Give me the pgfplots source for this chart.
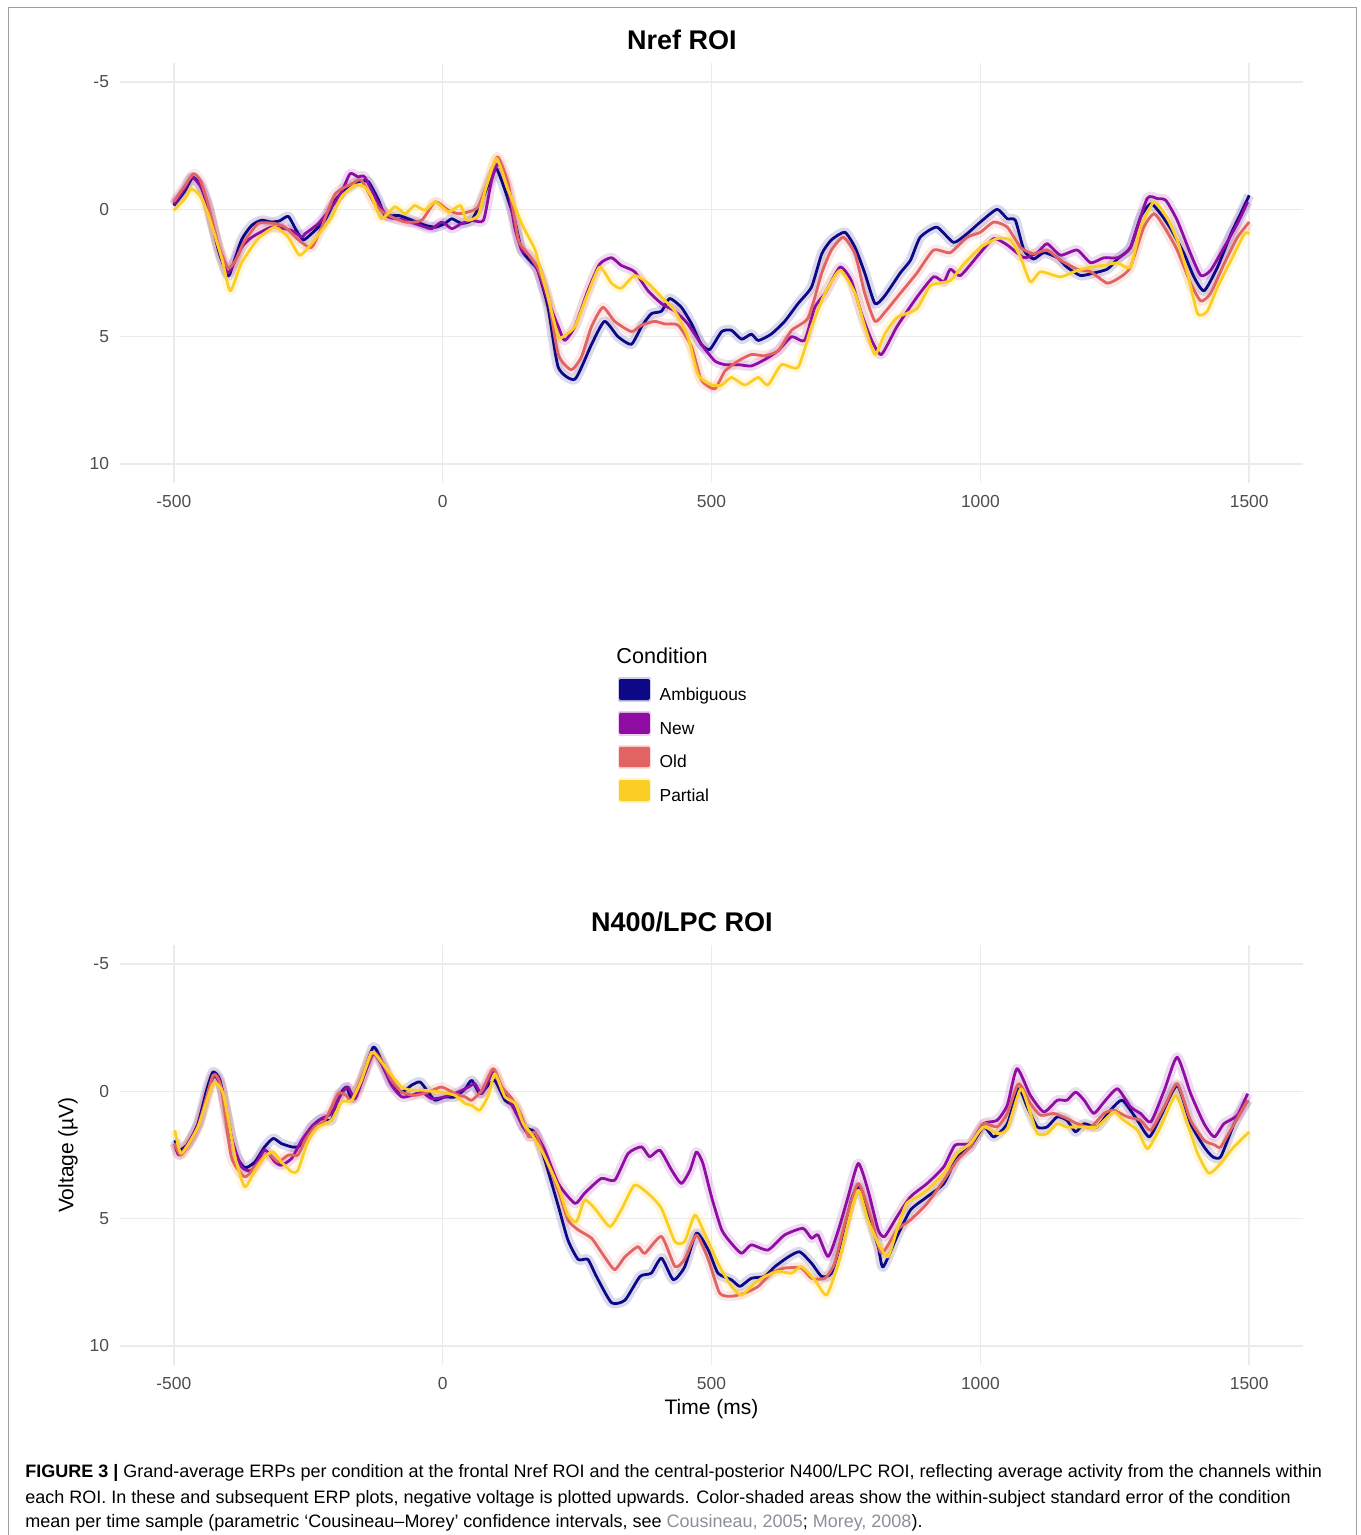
\documentclass[border=0pt]{standalone}
\usepackage{pgfplots}
\pgfplotsset{compat=1.18}
\usepackage{fontspec}
\setmainfont{Liberation Sans}
\definecolor{amb}{HTML}{0D0887}
\definecolor{newc}{HTML}{900DA4}
\definecolor{oldc}{HTML}{E16462}
\definecolor{parc}{HTML}{FCCE25}
\definecolor{gridc}{HTML}{EBEBEB}
\definecolor{tickc}{HTML}{4D4D4D}
\definecolor{linkc}{HTML}{8A8F99}

\pgfplotsset{erp/.style={
  scale only axis, width=591.5pt, height=210.1pt,
  xmin=-600, xmax=1600, ymin=-5.75, ymax=10.75, y dir=reverse,
  xtick={-500,0,500,1000,1500}, xticklabels={-500,0,500,1000,1500},
  ytick={-5,0,5,10}, yticklabels={-5,0,5,10},
  grid=major, major grid style={gridc, line width=0.75pt},
  axis line style={draw=none}, major tick length=0pt,
  tick label style={font=\fontsize{8.7}{10}\selectfont, text=tickc},
  yticklabel style={xshift=-2pt}, xticklabel style={yshift=-2.5pt},
  title style={font=\fontsize{13.5}{16}\selectfont\bfseries, at={(axis description cs:0.475,1)}, anchor=base, yshift=0.7pt},
  clip mode=individual,
  band/.style={line width=5pt, opacity=0.15, forget plot, line join=round, smooth, tension=0.35},
  ln/.style={line width=1.4pt, line join=round, smooth, tension=0.35},
}}

\begin{document}
\begin{tikzpicture}
\useasboundingbox (0,0) rectangle (680pt,767.5pt);
\draw[gray!75, line width=0.5pt] (4pt,0) -- (4pt,763.5pt) -- (678pt,763.5pt) -- (678pt,0);

% ---------------- Top panel: Nref ROI ----------------
\begin{axis}[erp, at={(60pt,525.95pt)}, anchor=south west,
  title={Nref ROI},
  legend style={at={(axis description cs:0.4205,-0.4613)}, anchor=north west, draw=none, fill=none,
    inner sep=0pt, row sep=3.45pt, font=\fontsize{8.7}{10}\selectfont,
    nodes={inner sep=0pt, text height=6.3pt, text depth=1.8pt},
    /tikz/every odd column/.append style={column sep=4.5pt}},
  legend cell align=left,
  legend image code/.code={\fill[#1, opacity=0.2] (-0.5pt,-2.4pt) rectangle (14.5pt,8.6pt); \fill[#1] (0pt,-1.4pt) rectangle (14pt,7.6pt);},
]
% Ambiguous
\pgfplotstableread{
x y
-500 -0.15
-480 -0.7
-465 -1.25
-452 -1.0
-436 -0.1
-417 1.6
-402 2.5
-396 2.55
-374 1.2
-355 0.63
-337 0.43
-318 0.5
-303 0.45
-287 0.28
-272 0.83
-259 1.2
-244 0.96
-219 0.43
-200 -0.35
-182 -0.75
-157 -1.08
-138 -1.08
-119 -0.35
-107 0.24
-82 0.24
-57 0.43
-32 0.63
-13 0.7
4 0.56
17 0.37
35 0.55
54 0.43
73 -0.35
88 -1.14
100 -1.6
116 -0.75
134 0.43
147 1.6
166 2.1
177 2.4
196 3.85
215 6.2
246 6.67
277 5.3
301 4.4
326 5.0
351 5.3
370 4.6
388 4.1
407 4.0
422 3.5
444 3.85
463 4.5
481 5.3
497 5.5
519 4.8
537 4.75
556 5.1
574 4.9
587 5.15
611 4.9
636 4.4
661 3.7
686 3.05
705 1.75
723 1.2
748 0.9
767 1.5
785 2.5
804 3.7
822 3.4
851 2.5
870 2.0
888 1.1
919 0.7
950 1.3
975 0.96
1000 0.5
1031 0.0
1050 0.37
1065 0.43
1081 1.6
1099 1.95
1118 1.7
1143 1.9
1161 2.27
1186 2.6
1211 2.5
1236 2.35
1255 1.95
1279 1.5
1298 0.3
1317 -0.22
1335 0.17
1354 0.76
1379 1.75
1397 2.65
1416 3.2
1441 2.27
1466 0.96
1484 0.17
1500 -0.55
}\TAamb
% New
\pgfplotstableread{
x y
-500 -0.2
-480 -0.8
-467 -1.27
-450 -0.9
-436 -0.1
-417 1.5
-399 2.5
-374 1.5
-355 1.1
-318 0.7
-281 0.83
-262 1.1
-256 0.96
-231 0.56
-206 -0.1
-188 -0.68
-172 -1.4
-157 -1.27
-145 -1.27
-119 -0.22
-101 0.3
-70 0.43
-32 0.7
-20 0.76
-1 0.5
17 0.76
35 0.56
54 0.43
76 0.43
91 -1.14
104 -1.8
122 -0.75
134 0.7
147 1.6
160 1.8
177 2.4
196 3.6
215 4.6
227 5.15
246 4.6
270 3.2
292 2.15
314 1.9
332 2.2
357 2.45
382 3.2
407 3.7
432 4.0
456 4.5
481 5.3
506 5.95
525 6.1
550 6.1
574 6.15
599 5.9
624 5.55
649 5.0
673 5.15
692 3.85
711 3.3
739 2.27
760 2.8
779 4.1
798 5.15
816 5.7
845 4.6
882 3.45
913 2.65
932 2.85
944 2.35
963 2.6
1000 1.7
1025 1.15
1050 1.4
1081 1.9
1106 1.7
1124 1.35
1149 1.8
1180 1.6
1205 2.1
1230 1.9
1255 1.9
1279 1.5
1310 -0.42
1329 -0.42
1345 -0.35
1366 0.43
1391 1.75
1410 2.6
1428 2.4
1453 1.5
1478 0.56
1497 -0.29
}\TAnew
% Old
\pgfplotstableread{
x y
-500 -0.3
-480 -0.9
-463 -1.4
-450 -1.1
-436 -0.2
-417 1.4
-399 2.3
-385 2.0
-370 1.3
-343 0.56
-312 0.56
-293 0.7
-268 1.2
-244 1.5
-225 0.7
-200 -0.6
-169 -1.0
-151 -1.14
-126 -0.2
-107 0.17
-70 0.5
-39 0.43
-14 -0.29
11 0.04
29 0.17
48 0.1
66 -0.1
85 -1.14
102 -2.06
122 -1.0
141 1.2
153 1.6
177 2.3
196 3.45
215 5.7
239 6.3
258 5.8
277 4.6
298 3.85
320 4.4
351 4.8
370 4.55
394 4.4
413 4.5
438 4.55
463 5.4
481 6.7
506 7.05
525 6.35
550 5.95
574 5.7
599 5.75
624 5.55
649 4.75
680 4.25
705 2.5
723 1.6
745 1.1
767 1.75
785 3.3
804 4.4
822 4.05
851 3.3
882 2.5
913 1.6
944 1.7
975 1.1
1000 0.9
1025 0.5
1050 0.7
1075 1.5
1099 1.75
1124 1.6
1149 2.0
1180 2.35
1205 2.45
1236 2.9
1261 2.65
1279 2.27
1304 0.7
1323 0.17
1342 0.7
1366 1.6
1391 2.9
1410 3.6
1428 3.3
1453 2.15
1478 1.1
1500 0.5
}\TAold
% Partial
\pgfplotstableread{
x y
-500 0.04
-480 -0.4
-467 -0.8
-450 -0.5
-436 0.2
-411 1.9
-395 3.2
-374 2.1
-343 1.15
-312 0.7
-287 1.1
-266 1.8
-244 1.35
-225 0.83
-206 0.3
-188 -0.5
-163 -0.95
-145 -0.88
-132 -0.5
-114 0.37
-89 -0.1
-70 0.17
-52 -0.15
-33 0.04
-14 -0.29
11 0.1
33 -0.15
45 0.43
66 0.23
81 -0.88
100 -2.0
122 -0.75
147 0.56
160 1.1
172 1.6
185 2.6
196 3.45
215 5.0
227 4.95
246 4.6
270 3.3
292 2.27
314 2.9
332 3.1
357 2.6
382 2.9
407 3.45
432 4.0
456 5.0
475 6.5
500 6.9
519 6.9
537 6.6
562 6.9
587 6.6
605 6.9
630 6.1
661 6.2
686 4.6
711 3.3
739 2.4
767 3.3
785 4.6
804 5.7
822 4.9
845 4.25
882 3.9
907 3.0
944 2.8
969 2.15
1000 1.5
1031 1.15
1056 1.2
1075 1.9
1093 2.85
1112 2.45
1149 2.65
1180 2.4
1205 2.27
1230 2.2
1255 2.1
1279 2.27
1298 0.7
1323 -0.29
1348 0.37
1366 1.2
1385 2.5
1404 4.1
1422 4.0
1441 3.05
1466 2.0
1491 0.96
1500 0.96
}\TApar
\addplot[band, amb] table {\TAamb};
\addplot[band, newc] table {\TAnew};
\addplot[band, oldc] table {\TAold};
\addplot[band, parc] table {\TApar};
\addplot[ln, amb] table {\TAamb}; \addlegendentry{Ambiguous}
\addplot[ln, newc] table {\TAnew}; \addlegendentry{New}
\addplot[ln, oldc] table {\TAold}; \addlegendentry{Old}
\addplot[ln, parc] table {\TApar}; \addlegendentry{Partial}
\node[anchor=west, inner sep=0pt, font=\fontsize{10.8}{12}\selectfont] at (axis description cs:0.4193,-0.4115) {Condition};
\end{axis}

% ---------------- Bottom panel: N400/LPC ROI ----------------
\begin{axis}[erp, at={(60pt,84.95pt)}, anchor=south west,
  title={N400/LPC ROI},
  xlabel={Time (ms)}, ylabel={Voltage (µV)},
  label style={font=\fontsize{10.5}{12}\selectfont},
  xlabel style={at={(axis description cs:0.5,-0.1035)}, anchor=center},
  ylabel style={at={(axis description cs:-0.044,0.5)}, anchor=center},
]
\pgfplotstableread{
x y
-498 1.92
-489 2.3
-473 2.05
-455 1.27
-439 -0.04
-427 -0.76
-414 -0.43
-399 1.14
-386 2.44
-368 3.0
-349 2.77
-331 2.18
-315 1.85
-300 2.05
-281 2.18
-269 2.18
-256 1.92
-244 1.4
-225 1.07
-207 1.14
-194 0.22
-179 -0.17
-169 0.29
-151 -0.43
-129 -1.74
-114 -1.21
-95 -0.3
-76 0.03
-58 -0.24
-42 -0.37
-27 0.03
-14 0.35
4 0.22
23 0.22
42 -0.1
54 -0.43
69 0.09
82 -0.17
97 -0.43
116 0.35
135 0.61
150 1.4
171 1.6
190 2.7
215 4.5
233 5.84
252 6.6
270 6.6
286 7.27
314 8.3
339 8.2
367 7.27
388 7.14
407 6.55
429 7.4
450 6.9
472 5.57
494 6.23
512 7.14
537 7.4
553 7.66
574 7.34
599 7.27
618 6.88
643 6.5
664 6.3
686 6.75
705 7.27
723 7.14
742 5.84
760 4.27
773 3.75
791 4.8
810 6.1
819 6.9
845 5.7
870 4.66
901 4.14
932 3.62
957 2.57
981 2.18
1006 1.4
1025 1.79
1050 1.27
1071 -0.1
1087 0.61
1106 1.4
1124 1.4
1143 1.0
1161 1.14
1177 1.59
1193 1.27
1217 1.4
1242 0.74
1264 0.35
1292 1.14
1314 1.79
1335 1.0
1366 -0.23
1391 1.27
1416 2.18
1432 2.57
1447 2.57
1472 1.27
1497 0.35
}\TBamb
\pgfplotstableread{
x y
-498 2.05
-489 2.5
-455 1.33
-427 -0.56
-412 -0.17
-393 1.79
-374 2.96
-355 3.1
-331 2.31
-312 2.77
-300 2.9
-281 2.64
-262 1.92
-244 1.4
-225 1.07
-207 0.87
-188 0.09
-176 -0.17
-163 0.29
-145 -0.69
-129 -1.47
-114 -1.08
-95 -0.24
-76 0.22
-58 0.16
-39 0.03
-20 0.29
4 0.22
29 0.03
48 -0.17
60 -0.3
73 0.09
94 -0.76
110 -0.04
129 0.55
150 1.4
163 1.79
171 1.6
190 2.31
215 3.62
246 4.4
264 4.0
295 3.42
320 3.49
345 2.44
370 2.18
385 2.57
404 2.31
426 3.1
444 3.62
460 3.1
472 2.38
484 2.83
500 4.14
519 5.44
537 5.97
556 6.36
574 6.03
605 6.23
636 5.64
670 5.38
686 5.77
698 5.64
717 6.49
736 5.44
754 4.14
773 2.83
791 3.88
810 5.44
822 5.7
845 4.92
870 4.14
901 3.62
932 2.96
953 2.11
981 2.05
1006 1.27
1031 1.14
1050 0.55
1068 -0.89
1093 0.16
1118 0.81
1143 0.35
1161 0.35
1177 0.03
1193 0.35
1211 0.87
1230 0.42
1255 -0.1
1279 0.61
1298 0.87
1317 1.2
1342 -0.04
1366 -1.34
1391 0.09
1416 1.27
1435 1.79
1453 1.27
1478 0.94
1497 0.09
}\TBnew
\pgfplotstableread{
x y
-498 2.05
-486 2.5
-455 1.4
-427 -0.63
-412 -0.17
-393 2.57
-368 3.36
-349 2.96
-325 2.44
-306 2.77
-287 2.5
-269 2.5
-256 1.92
-238 1.4
-219 1.14
-194 0.09
-179 0.16
-169 0.35
-145 -0.82
-129 -1.54
-114 -1.21
-95 -0.43
-76 0.03
-52 0.16
-27 0.03
-2 -0.17
23 0.09
42 0.22
54 0.35
73 -0.04
94 -0.89
110 -0.17
129 0.29
147 1.0
160 1.79
172 1.6
190 2.57
215 3.88
233 5.05
252 5.44
277 5.77
301 6.5
320 7.0
339 6.5
363 6.1
376 6.36
407 5.7
432 6.88
450 6.6
472 5.64
494 6.6
515 7.92
537 8.05
562 7.92
587 7.66
611 7.14
636 6.94
667 6.94
686 7.34
711 7.34
729 6.75
748 5.18
773 3.62
798 5.05
816 6.36
845 5.44
870 5.05
901 4.4
932 3.49
957 2.7
981 2.18
1006 1.27
1031 1.4
1050 0.87
1071 -0.3
1093 0.48
1112 0.94
1137 0.87
1161 1.07
1180 1.27
1205 1.4
1230 0.87
1248 0.74
1273 1.0
1298 1.14
1317 1.53
1342 0.61
1366 -0.3
1391 1.14
1416 1.92
1435 2.1
1447 2.18
1472 1.27
1497 0.35
}\TBold
\pgfplotstableread{
x y
-498 1.53
-486 2.44
-455 1.4
-427 -0.3
-408 0.09
-386 2.57
-368 3.75
-349 3.1
-331 2.57
-315 2.38
-300 2.77
-281 3.16
-269 3.1
-250 1.92
-232 1.4
-207 1.14
-188 0.42
-169 0.35
-151 -0.43
-132 -1.54
-114 -1.15
-95 -0.63
-76 -0.17
-58 -0.04
-33 -0.04
-2 0.03
23 0.16
42 0.48
54 0.55
69 0.74
85 0.16
97 -0.69
116 0.22
135 0.48
150 1.27
166 1.7
190 2.57
215 3.75
233 4.86
249 5.12
264 4.27
283 4.6
311 5.31
332 4.66
357 3.68
385 4.07
407 4.6
432 5.9
450 5.9
469 4.86
487 5.57
512 6.75
537 7.66
556 8.0
580 7.53
599 7.27
624 7.07
649 7.14
667 6.88
692 7.4
714 8.0
736 6.75
754 5.18
773 3.88
791 5.05
810 5.97
828 6.5
845 5.44
863 4.4
894 4.0
932 3.22
957 2.44
981 2.05
1006 1.4
1031 1.66
1050 1.47
1075 -0.1
1093 0.87
1106 1.66
1124 1.66
1143 1.27
1161 1.4
1193 1.4
1217 1.4
1248 0.81
1267 1.14
1292 1.53
1311 2.25
1335 1.4
1363 0.16
1385 1.27
1404 2.44
1425 3.22
1447 2.83
1466 2.31
1484 1.92
1500 1.59
}\TBpar
\addplot[band, amb] table {\TBamb};
\addplot[band, newc] table {\TBnew};
\addplot[band, oldc] table {\TBold};
\addplot[band, parc] table {\TBpar};
\addplot[ln, amb] table {\TBamb};
\addplot[ln, newc] table {\TBnew};
\addplot[ln, oldc] table {\TBold};
\addplot[ln, parc] table {\TBpar};
\end{axis}

% ---------------- Caption ----------------
\node[anchor=base west, inner sep=0pt, font=\fontsize{9}{11}\selectfont] at (12.5pt,28.5pt)
 {\textbf{FIGURE 3 |} Grand-average ERPs per condition at the frontal Nref ROI and the central-posterior N400/LPC ROI, reflecting average activity from the channels within};
\node[anchor=base west, inner sep=0pt, font=\fontsize{9}{11}\selectfont] at (12.5pt,16pt)
 {each ROI. In these and subsequent ERP plots, negative voltage is plotted upwards. Color-shaded areas show the within-subject standard error of the condition};
\node[anchor=base west, inner sep=0pt, font=\fontsize{9}{11}\selectfont] at (12.5pt,3.5pt)
 {mean per time sample (parametric ‘Cousineau–Morey’ confidence intervals, see \textcolor{linkc}{Cousineau, 2005}; \textcolor{linkc}{Morey, 2008}).};
\end{tikzpicture}
\end{document}
